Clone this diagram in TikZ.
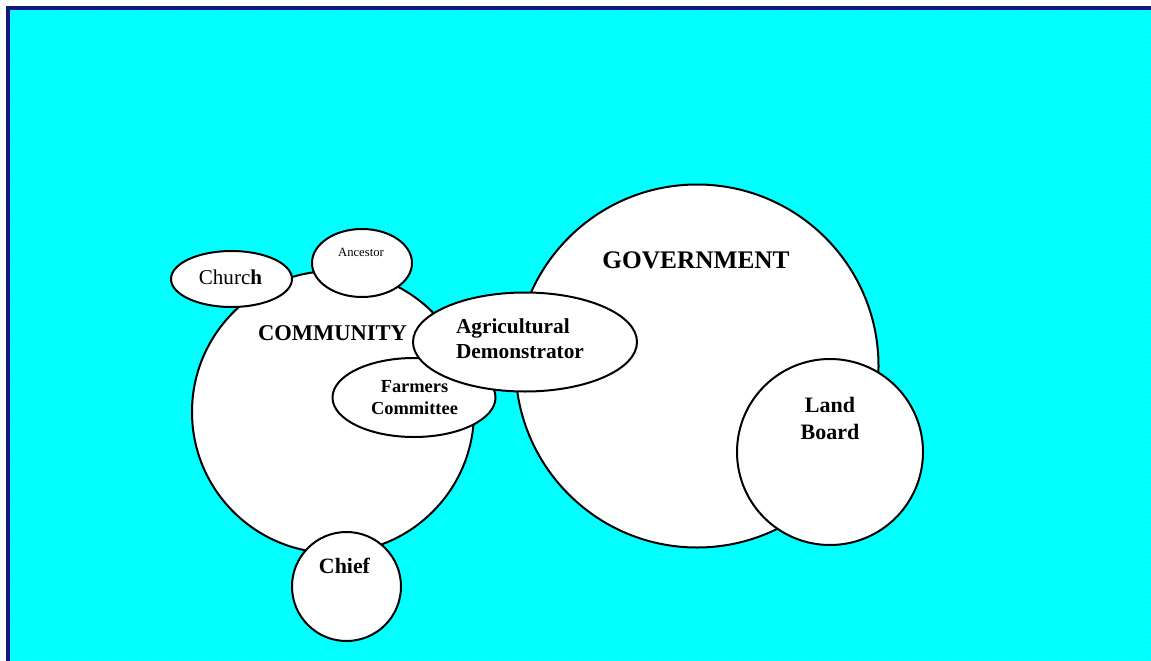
\documentclass[tikz,border=0pt]{standalone}
\usepackage{fontspec}
\setmainfont{Liberation Serif}
\usetikzlibrary{shapes.geometric,patterns.meta}

\definecolor{skycyan}{RGB}{0,255,255}
\definecolor{framenavy}{RGB}{20,20,128}

\tikzset{
  blob/.style={draw=black,fill=white,line width=1.5pt,inner sep=0pt,outer sep=0pt},
  roundblob/.style={blob,circle},
  ovalblob/.style={blob,ellipse},
  lbl/.style={anchor=base,inner sep=0pt,outer sep=0pt},
}
\newcommand{\fsz}[2]{\fontsize{#1}{#2}\selectfont}

\begin{document}
\begin{tikzpicture}[x=0.75pt,y=-0.75pt]
  \useasboundingbox (0,0) rectangle (1151,660);
  \clip (0,0) rectangle (1151,660);
  % dotted cyan backdrop with its frame
  \fill[skycyan] (8,8) rectangle (1170,680);
  \fill[pattern={Dots[distance=3.75pt,radius=0.3pt]},pattern color=white!55!skycyan]
    (9,9) rectangle (1170,680);
  \draw[framenavy,line width=2.4pt] (8,680) -- (8,8) -- (1170,8);

  % the two big groups
  \node[roundblob,minimum size=211.5pt] (community) at (333,412) {};
  \node[roundblob,minimum size=272.25pt] (government) at (697,366) {};
  % circles and ovals sitting on their rims
  \node[roundblob,minimum size=139.5pt] (landboard) at (830,452) {};
  \node[roundblob,minimum size=81.75pt] (chief) at (346.5,586.5) {};
  \node[ovalblob,minimum width=90.75pt,minimum height=42pt] (church) at (231.5,279) {};
  \node[ovalblob,minimum width=75pt,minimum height=51pt] (ancestor) at (362,263) {};
  \node[ovalblob,minimum width=122.25pt,minimum height=59.25pt] (farmers) at (414,397.5) {};
  \node[ovalblob,minimum width=168pt,minimum height=74.25pt] (agri) at (525,342) {};

  % labels (two-line ones sit on the baseline of their last line)
  \node[lbl,font=\bfseries\fsz{16.9}{20}] (communitytext) at (332.5,340) {COMMUNITY};
  \node[lbl,font=\bfseries\fsz{19}{22}] (governmenttext) at (696,268) {GOVERNMENT};
  \node[lbl,font=\bfseries\fsz{16.5}{20.25},align=center] (landboardtext) at (830,439) {Land\\Board};
  \node[lbl,font=\bfseries\fsz{16.4}{20}] (chieftext) at (344.5,573) {Chief};
  \node[lbl,font=\fsz{15.8}{19}] (churchtext) at (230.5,284) {Churc\textbf{h}};
  \node[lbl,font=\fsz{9.5}{11}] (ancestortext) at (361,256) {Ancestor};
  \node[lbl,font=\bfseries\fsz{13.8}{16.5},align=center] (farmerstext) at (414.5,414) {Farmers\\Committee};
  \node[lbl,anchor=base west,font=\bfseries\fsz{16}{18.75},align=left] (agritext) at (456,358) {Agricultural\\Demonstrator};
\end{tikzpicture}
\end{document}
